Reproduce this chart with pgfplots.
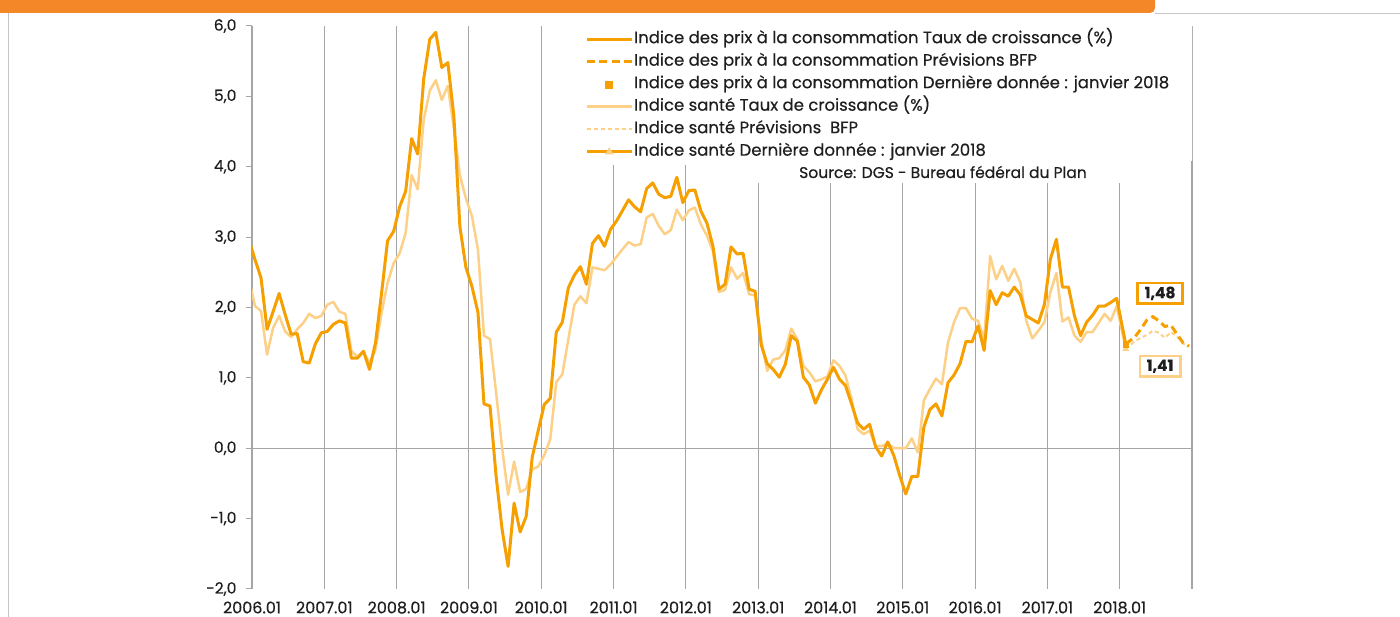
\documentclass[border=0pt]{standalone}
\usepackage{pgfplots}
\pgfplotsset{compat=1.18}
\usepackage{fontspec}
\setmainfont{Poppins}[FakeBold=0.4]
\definecolor{darkor}{RGB}{245,160,0}
\definecolor{lightor}{RGB}{252,208,135}
\definecolor{baror}{RGB}{244,135,40}
\definecolor{gridgray}{RGB}{165,165,165}
\definecolor{txt}{RGB}{30,30,30}
\begin{document}
\begin{tikzpicture}[x=1pt,y=1pt]
\path[use as bounding box] (0,0) rectangle (1400,617);
\fill[baror, rounded corners=5pt] (-20,604) rectangle (1155,640);
\draw[gray!45, line width=1pt] (1155,603.5) -- (1400,603.5);
\draw[gray!45, line width=1pt] (8,0) -- (8,604);
\begin{axis}[
  at={(252pt,28pt)}, anchor=south west,
  width=940pt, height=563pt, scale only axis,
  xmin=0, xmax=156, ymin=-2, ymax=6,
  axis line style={draw=none},
  xtick={0,12,...,156},
  xticklabels={2006.01,2007.01,2008.01,2009.01,2010.01,2011.01,2012.01,2013.01,2014.01,2015.01,2016.01,2017.01,2018.01,{}},
  xmajorgrids,
  major grid style={gridgray, line width=1.1pt},
  xtick style={draw=none},
  ytick={-2,-1,...,6},
  ytick pos=left,
  tick align=outside,
  ytick style={gridgray, line width=1pt},
  major tick length=6pt,
  extra y ticks={0},
  extra y tick labels={},
  extra y tick style={ymajorgrids=true, ytick style={draw=none}},
  yticklabel style={font=\fontsize{15.5}{18}\selectfont, text=txt, xshift=-6pt,
     /pgf/number format/fixed, /pgf/number format/fixed zerofill,
     /pgf/number format/precision=1, /pgf/number format/use comma,
     /pgf/number format/assume math mode=true},
  xticklabel style={font=\fontsize{16}{18}\selectfont, text=txt, yshift=-3pt},
  legend cell align=left,
  legend style={at={(rel axis cs:0.3436,1)}, anchor=north west, draw=none, fill=white,
     inner xsep=10pt, inner ysep=4pt, font=\fontsize{16.5}{18}\selectfont, text=txt,
     row sep=4.5pt, nodes={inner sep=1pt, text height=12pt, text depth=4pt}},
]
\addlegendimage{legend image code/.code={\draw[darkor, line width=3pt] (0pt,0pt) -- (45pt,0pt);}}
\addlegendentry{Indice des prix à la consommation Taux de croissance (\%)}
\addlegendimage{legend image code/.code={\draw[darkor, line width=3pt, dash pattern=on 8pt off 4.5pt] (0pt,0pt) -- (45pt,0pt);}}
\addlegendentry{Indice des prix à la consommation Prévisions BFP}
\addlegendimage{legend image code/.code={\fill[darkor] (19pt,-3.5pt) rectangle (26pt,3.5pt);}}
\addlegendentry{Indice des prix à la consommation Dernière donnée : janvier 2018}
\addlegendimage{legend image code/.code={\draw[lightor, line width=2.5pt] (0pt,0pt) -- (45pt,0pt);}}
\addlegendentry{Indice santé Taux de croissance (\%)}
\addlegendimage{legend image code/.code={\draw[lightor, line width=2pt, dash pattern=on 4pt off 3pt] (0pt,0pt) -- (45pt,0pt);}}
\addlegendentry{Indice santé Prévisions~ BFP}
\addlegendimage{legend image code/.code={\draw[darkor, line width=2.5pt] (0pt,0pt) -- (45pt,0pt); \fill[lightor] (18.5pt,-2.5pt) -- (26.5pt,-2.5pt) -- (22.5pt,4pt) -- cycle;}}
\addlegendentry{Indice santé Dernière donnée : janvier 2018}

% white panel behind the legend's right end (hides the top of the last grid line)
\fill[white] (axis cs:148,4.08) rectangle (axis cs:157,6.1);

% Indice sante
\addplot[forget plot, lightor, line width=2.5pt, line join=round] coordinates {
(-0.5,2.40) (0.5,2.02) (1.5,1.95) (2.5,1.33) (3.5,1.71) (4.5,1.88) (5.5,1.66) (6.5,1.58) (7.5,1.69) (8.5,1.78) (9.5,1.91) (10.5,1.85) (11.5,1.88) (12.5,2.04) (13.5,2.08) (14.5,1.94) (15.5,1.91) (16.5,1.38) (17.5,1.30) (18.5,1.37) (19.5,1.21) (20.5,1.40) (21.5,1.92) (22.5,2.35) (23.5,2.63) (24.5,2.77) (25.5,3.06) (26.5,3.88) (27.5,3.68) (28.5,4.67) (29.5,5.08) (30.5,5.23) (31.5,4.95) (32.5,5.15) (33.5,4.55) (34.5,3.88) (35.5,3.55) (36.5,3.30) (37.5,2.82) (38.5,1.60) (39.5,1.55) (40.5,0.80) (41.5,0.01) (42.5,-0.66) (43.5,-0.19) (44.5,-0.62) (45.5,-0.58) (46.5,-0.30) (47.5,-0.26) (48.5,-0.10) (49.5,0.13) (50.5,0.94) (51.5,1.05) (52.5,1.55) (53.5,2.04) (54.5,2.16) (55.5,2.06) (56.5,2.57) (57.5,2.55) (58.5,2.53) (59.5,2.61) (60.5,2.72) (61.5,2.83) (62.5,2.93) (63.5,2.88) (64.5,2.90) (65.5,3.28) (66.5,3.33) (67.5,3.16) (68.5,3.04) (69.5,3.10) (70.5,3.39) (71.5,3.24) (72.5,3.38) (73.5,3.42) (74.5,3.18) (75.5,3.02) (76.5,2.80) (77.5,2.22) (78.5,2.25) (79.5,2.57) (80.5,2.41) (81.5,2.49) (82.5,2.19) (83.5,2.17) (84.5,1.55) (85.5,1.10) (86.5,1.26) (87.5,1.28) (88.5,1.39) (89.5,1.70) (90.5,1.55) (91.5,1.17) (92.5,1.08) (93.5,0.95) (94.5,0.98) (95.5,1.02) (96.5,1.25) (97.5,1.17) (98.5,1.03) (99.5,0.70) (100.5,0.27) (101.5,0.20) (102.5,0.25) (103.5,0.03) (104.5,0.03) (105.5,0.07) (106.5,0.00) (107.5,0.00) (108.5,0.00) (109.5,0.14) (110.5,-0.06) (111.5,0.68) (112.5,0.84) (113.5,0.99) (114.5,0.91) (115.5,1.50) (116.5,1.79) (117.5,1.99) (118.5,1.99) (119.5,1.84) (120.5,1.81) (121.5,1.55) (122.5,2.73) (123.5,2.40) (124.5,2.59) (125.5,2.38) (126.5,2.55) (127.5,2.36) (128.5,1.81) (129.5,1.56) (130.5,1.67) (131.5,1.79) (132.5,2.22) (133.5,2.49) (134.5,1.80) (135.5,1.86) (136.5,1.60) (137.5,1.51) (138.5,1.65) (139.5,1.65) (140.5,1.78) (141.5,1.91) (142.5,1.81) (143.5,2.02) (145.0,1.41)
};
\addplot[forget plot, lightor, line width=2pt, dash pattern=on 4pt off 3pt] coordinates {
(145.0,1.41) (146.5,1.52) (147.5,1.57) (148.5,1.61) (149.5,1.67) (150.5,1.64) (151.5,1.57) (152.5,1.65) (153.5,1.59) (154.5,1.49) (155.5,1.45)
};
\addplot[forget plot, only marks, mark=triangle*, mark size=3.5pt, color=lightor] coordinates {(145.0,1.41)};

% Indice des prix
\addplot[forget plot, darkor, line width=3pt, line join=round] coordinates {
(-0.5,2.96) (0.5,2.68) (1.5,2.42) (2.5,1.69) (3.5,1.94) (4.5,2.20) (5.5,1.90) (6.5,1.62) (7.5,1.63) (8.5,1.23) (9.5,1.21) (10.5,1.48) (11.5,1.64) (12.5,1.66) (13.5,1.76) (14.5,1.81) (15.5,1.78) (16.5,1.28) (17.5,1.28) (18.5,1.38) (19.5,1.12) (20.5,1.50) (21.5,2.20) (22.5,2.95) (23.5,3.08) (24.5,3.43) (25.5,3.65) (26.5,4.40) (27.5,4.18) (28.5,5.25) (29.5,5.81) (30.5,5.91) (31.5,5.41) (32.5,5.48) (33.5,4.72) (34.5,3.15) (35.5,2.57) (36.5,2.30) (37.5,1.93) (38.5,0.63) (39.5,0.60) (40.5,-0.39) (41.5,-1.15) (42.5,-1.68) (43.5,-0.78) (44.5,-1.19) (45.5,-0.97) (46.5,-0.13) (47.5,0.25) (48.5,0.62) (49.5,0.71) (50.5,1.65) (51.5,1.79) (52.5,2.28) (53.5,2.46) (54.5,2.58) (55.5,2.33) (56.5,2.91) (57.5,3.02) (58.5,2.87) (59.5,3.11) (60.5,3.23) (61.5,3.38) (62.5,3.53) (63.5,3.43) (64.5,3.36) (65.5,3.69) (66.5,3.77) (67.5,3.61) (68.5,3.56) (69.5,3.58) (70.5,3.85) (71.5,3.49) (72.5,3.66) (73.5,3.67) (74.5,3.37) (75.5,3.20) (76.5,2.87) (77.5,2.26) (78.5,2.33) (79.5,2.86) (80.5,2.76) (81.5,2.77) (82.5,2.26) (83.5,2.23) (84.5,1.47) (85.5,1.20) (86.5,1.12) (87.5,1.01) (88.5,1.19) (89.5,1.60) (90.5,1.52) (91.5,1.01) (92.5,0.90) (93.5,0.64) (94.5,0.83) (95.5,0.98) (96.5,1.15) (97.5,0.98) (98.5,0.89) (99.5,0.63) (100.5,0.36) (101.5,0.27) (102.5,0.34) (103.5,0.02) (104.5,-0.11) (105.5,0.09) (106.5,-0.10) (107.5,-0.39) (108.5,-0.65) (109.5,-0.40) (110.5,-0.40) (111.5,0.30) (112.5,0.55) (113.5,0.63) (114.5,0.46) (115.5,0.93) (116.5,1.04) (117.5,1.20) (118.5,1.52) (119.5,1.51) (120.5,1.74) (121.5,1.39) (122.5,2.24) (123.5,2.04) (124.5,2.21) (125.5,2.16) (126.5,2.29) (127.5,2.18) (128.5,1.88) (129.5,1.83) (130.5,1.78) (131.5,2.04) (132.5,2.69) (133.5,2.97) (134.5,2.29) (135.5,2.29) (136.5,1.88) (137.5,1.60) (138.5,1.79) (139.5,1.89) (140.5,2.02) (141.5,2.02) (142.5,2.07) (143.5,2.13) (145.0,1.48)
};
\addplot[forget plot, darkor, line width=3pt, dash pattern=on 8pt off 4.5pt] coordinates {
(145.0,1.48) (146.5,1.58) (147.5,1.69) (148.5,1.82) (149.5,1.87) (150.5,1.81) (151.5,1.73) (152.5,1.75) (153.5,1.62) (154.5,1.50) (155.5,1.45)
};
\addplot[forget plot, only marks, mark=square*, mark size=2.8pt, color=darkor] coordinates {(145.0,1.48)};

\node[draw=darkor, line width=2.5pt, fill=white, text=txt, font=\bfseries\fontsize{15.5}{18}\selectfont, inner xsep=7pt, inner ysep=3.5pt] at (axis cs:150.7,2.20) {1,48};
\node[draw=lightor, line width=2.5pt, fill=white, text=txt, font=\bfseries\fontsize{15.5}{18}\selectfont, inner xsep=7pt, inner ysep=3.5pt] at (axis cs:150.7,1.165) {1,41};
\end{axis}
\fill[white] (700,434) rectangle (1150,455);
\node[text=txt, font=\fontsize{15.5}{17}\selectfont] at (943,445) {Source: DGS - Bureau fédéral du Plan};
\end{tikzpicture}
\end{document}
